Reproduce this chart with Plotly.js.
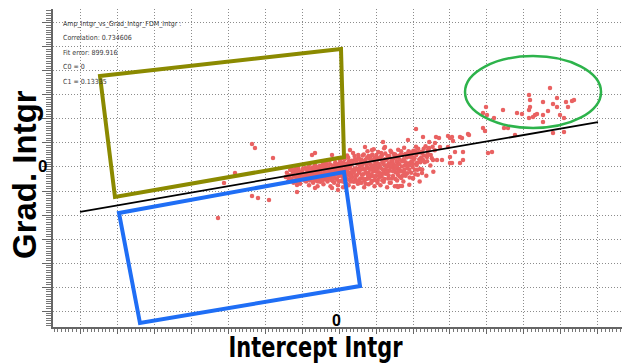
<!DOCTYPE html>
<html>
<head>
<meta charset="utf-8">
<script src="https://cdn.plot.ly/plotly-3.0.1.min.js"></script>
<style>
  html, body { margin: 0; padding: 0; background: #fff; }
  #chart { width: 623px; height: 363px; }
</style>
</head>
<body>
<div id="chart"></div>
<script>
// Intercept / gradient integral samples: [Intercept Intgr, Grad. Intgr]
const intgrSamples = [
  // dense core along the fit
  [-1440,-210],[-1410,-120],[-1380,-300],[-1350,-170],[-1320,-60],[-1290,-240],[-1260,-150],[-1230,-330],
  [-1200,-90],[-1180,-200],[-1150,-270],[-1120,-130],[-1100,-30],[-1070,-220],[-1050,-350],[-1020,-160],
  [-990,-80],[-960,-260],[-940,-190],[-910,-20],
  [-890,-300],[-870,-140],[-850,-50],[-830,-220],[-810,-380],[-800,60],[-780,-170],[-760,-260],[-740,-90],
  [-720,-10],[-700,-330],[-690,-200],[-670,-120],[-650,40],[-630,-280],[-610,-60],[-600,-180],[-580,-400],
  [-560,-240],[-540,-100],[-520,20],[-500,-310],[-490,-150],[-470,-40],[-450,-210],[-430,90],[-420,-360],
  [-400,-130],[-380,-260],[-360,-20],[-350,-180],[-330,60],[-310,-300],[-300,-90],[-280,-220],[-260,130],
  [-250,-150],[-230,-400],[-210,-40],[-200,-270],[-180,-110],[-160,30],[-150,-200],[-130,-330],[-110,-70],
  [-100,100],[-80,-240],[-60,-150],[-40,-20],[-30,-380],[-10,-190],[0,60],
  [20,-110],[40,-290],[60,180],[70,-30],[90,-200],[110,-420],[120,90],[140,-140],[160,-330],[170,20],
  [190,-60],[210,-250],[220,240],[240,-160],[260,-380],[270,120],[290,-20],[310,-300],[320,-110],[340,50],
  [360,-210],[380,290],[390,-420],[410,-80],[430,150],[440,-260],[460,-30],[480,-170],[490,70],[510,-350],
  [530,200],[540,-120],[560,-10],[580,-240],[590,110],
  [610,-330],[630,40],[650,-150],[670,260],[680,-420],[700,-60],[720,150],[740,-250],[750,10],[770,330],
  [790,-120],[800,-360],[820,90],[840,-200],[860,220],[870,-20],[890,-290],[910,140],[930,-90],[940,370],
  [960,-400],[980,60],[1000,-180],[1010,250],[1030,-30],[1050,-270],[1070,180],[1080,-110],[1100,30],
  [1120,-380],[1140,290],[1150,-200],[1170,100],[1190,-50],[1210,-310],[1220,390],[1240,160],[1260,-140],
  [1280,10],[1300,-420],[1310,230],[1330,-240],[1350,80],[1370,-80],[1390,340],[1400,-330],[1420,140],
  [1440,-10],[1460,-190],[1480,270],[1490,40],[1510,-400],[1530,-110],[1550,200],[1570,-280],[1580,90],
  [1600,360],[1620,-40],[1640,-200],
  [1660,250],[1690,-90],[1710,120],[1740,-300],[1760,400],[1780,30],[1800,-180],[1830,200],[1850,-20],
  [1880,330],[1900,-370],[1920,90],[1950,-120],[1970,260],[2000,-240],[2020,150],[2050,-60],[2080,420],
  [2100,40],[2130,-160],[2160,300],[2180,-300],
  [2220,200],[2250,-50],[2290,380],[2320,100],[2360,-180],[2400,270],[2440,520],[2470,30],[2510,180],
  [2550,-100],[2590,350],
  // second pass through the core, close to the fit
  [-1300,-60],[-1270,-280],[-1240,-110],[-1210,-200],[-1170,-40],[-1140,-310],[-1110,-180],[-1080,-90],
  [-1040,-250],[-1010,-120],[-970,-30],[-930,-280],[-900,-150],[-870,-230],[-840,-100],[-820,0],
  [-790,-280],[-770,-60],[-750,-190],[-720,-130],[-690,-20],[-660,-250],[-640,-160],[-620,10],
  [-590,-110],[-570,-300],[-550,-30],[-530,-180],[-510,-80],[-480,-250],[-460,30],[-440,-140],
  [-410,-60],[-390,-200],[-370,80],[-340,-110],[-320,-240],[-290,-10],[-270,-150],[-240,50],
  [-220,-200],[-190,-80],[-170,-290],[-140,10],[-120,-160],[-90,60],[-70,-110],[-50,-260],
  [-20,20],[0,-90],[30,130],[50,-170],[80,30],[100,-300],[130,-60],[150,160],[180,-230],[200,70],
  [230,-100],[250,190],[280,-260],[300,20],[330,-150],[350,130],[370,-60],[400,-310],[420,230],
  [450,-190],[470,100],[500,-40],[520,250],[550,-260],[570,40],[600,150],[620,-160],[640,240],
  [660,-40],[690,-280],[710,90],[730,-120],[760,200],[780,-20],[810,-240],[830,170],[850,50],
  [880,-150],[900,260],[920,-40],[950,130],[970,-270],[990,190],[1020,-100],[1040,80],[1060,310],
  [1090,-210],[1110,170],[1130,-20],[1160,240],[1180,-140],[1200,60],[1230,-250],[1250,280],
  [1270,-50],[1290,150],[1320,30],[1340,-170],[1360,230],[1380,-10],[1410,310],[1430,-240],
  [1450,90],[1470,170],[1500,-60],[1520,260],[1540,-20],[1560,120],[1590,-160],[1610,230],
  [1630,60],[1650,-90],[1680,330],[1700,10],[1720,-180],[1750,160],[1770,-60],[1790,270],
  [1820,80],[1840,-130],[1870,220],[1890,40],[1910,-220],[1940,300],[1960,110],[1990,0],
  [2010,340],[2040,180],[2060,-150],[2090,250],[2110,90],[2140,380],[2170,160],[2190,-40],
  [2230,320],[2260,140],[2300,240],[2340,430],[2380,120],[2420,360],[2480,250],[2530,420],
  // third pass, densest stretch of the core
  [-1350,-250],[-1250,-60],[-1150,-190],[-1060,-130],[-950,-210],[-880,-60],[-810,-170],[-730,-240],
  [-680,-80],[-610,-210],[-540,-140],[-500,-60],[-450,-280],[-400,10],[-350,-90],[-300,-260],
  [-260,-40],[-210,-150],[-160,-230],[-110,-20],[-60,-100],[-10,-290],[40,-40],[90,70],[120,-250],
  [170,-130],[200,-340],[240,-20],[260,60],[300,-190],[340,-290],[360,100],[400,-120],[430,-30],
  [470,-300],[500,160],[530,-90],[560,-330],[590,-60],[620,70],[650,-240],[690,130],[720,-350],
  [740,60],[780,-170],[800,230],[840,-60],[870,-330],[900,30],[940,-200],[970,190],[1000,-20],
  [1040,-330],[1070,60],[1100,-150],[1130,210],[1170,-280],[1200,-80],[1230,130],[1260,30],
  [1300,-110],[1330,200],[1370,-330],[1400,40],[1430,130],[1460,-90],[1500,200],[1530,-250],
  [1560,20],[1600,-100],[1640,150],[1680,-230],[1720,250],[1760,-120],[1800,100],[1850,270],
  [1900,-60],[1950,200],[2000,60],[2060,330],[2120,-60],[2200,100],
  // scattered samples left of and around the core
  [-2352,479],[-2271,396],[-3271,-1062],[-2352,-604],[-2189,-646],[-1892,-687],[-3108,-333],[-2811,-125],
  [-1784,187],[-1135,-375],[-1135,-521],[-730,250],[-649,292],[-649,-437],[-189,-437],[-27,-479],
  [-189,250],[297,354],[703,417],[892,354],
  [1189,521],[1243,417],[1865,562],[1649,-396],[1568,-396],[1595,-417],[1703,-396],[2000,-229],
  // sparse tail to the right
  [2081,792],[2270,625],[2946,646],[3000,604],[3271,625],[3325,604],[3487,687],[2595,500],[2730,417],
  [2406,354],[2541,146],[2784,146],[3000,208],[3271,83],[3000,83],[4027,292],
  [2622,625],[2703,604],[3054,625],[3514,667],[3892,812],[3946,750],[4460,812],[4568,812],[4757,667],
  [2433,396],[2946,417],[3081,542],[3352,312],[3135,312],[2243,292],[2379,208],[2270,146],[2649,146],
  [3054,83],[3352,146],[2243,-125],[4136,312],[5784,708],[6082,729],
  // upper-right group
  [5703,1646],[5136,1500],[5163,1396],[5514,1354],[5892,1437],[6136,1354],[6298,1375],[6352,1396],
  [3973,1250],[4433,1187],[4811,1125],[4946,1104],[5163,1250],[5136,1187],[5298,1083],[5352,1104],
  [5514,1083],[5649,1166],[5784,1312],[5892,1250],[6190,1250],[5973,1083],[6082,1021],[5136,1021],
  [5244,1041],[5514,937],[3892,1125],[4000,1083],[4190,1021]
];

// Linear fit: Grad = C0 + C1 * Intercept
const fitC0 = 0;
const fitC1 = 0.13335;
const fitXs = [-7000, 7000];

const fitInfo = [
  'Amp_Intgr_vs_Grad_Intgr_FDM_Intgr :',
  'Correlation: 0.734606',
  'Fit error: 899.916',
  'C0 = 0',
  'C1 = ' + fitC1
];

// Selection outlines (data coordinates)
const upperBox = [[-6460,1896],[54,2458],[135,208],[-6055,-625]];
const lowerBox = [[-5947,-958],[135,-104],[568,-2479],[-5379,-3250]];
const tailEllipse = {x0: 3406, x1: 7082, y0: 812, y1: 2312};

const xGrid = [-7000,-6000,-5000,-4000,-3000,-2000,-1000,0,1000,2000,3000,4000,5000,6000,7000];
const yGrid = [-3000,-2500,-2000,-1500,-1000,-500,0,500,1000,1500,2000,2500,3000];

function polyPath(pts) {
  return 'M ' + pts.map(p => p[0] + ',' + p[1]).join(' L ') + ' Z';
}

const traces = [
  {
    type: 'scatter', mode: 'markers',
    x: intgrSamples.map(p => p[0]),
    y: intgrSamples.map(p => p[1]),
    marker: {color: '#e96262', size: 4.5, line: {width: 0}},
    hoverinfo: 'skip'
  },
  {
    type: 'scatter', mode: 'lines',
    x: fitXs,
    y: fitXs.map(v => fitC0 + fitC1 * v),
    line: {color: '#000', width: 1.8},
    hoverinfo: 'skip'
  }
];

const axisCommon = {
  showgrid: true, gridcolor: '#8c8c8c', griddash: '1px,2px', gridwidth: 1,
  zeroline: false, showline: true, linecolor: '#666', linewidth: 2,
  ticks: 'outside', tickcolor: '#666', tickwidth: 1,
  tickmode: 'array', showticklabels: false,
  minor: {ticks: 'outside', ticklen: 3, tickcolor: '#777', tickwidth: 1, showgrid: false}
};

const infoAnnotations = fitInfo.map((t, i) => ({
  text: t, xref: 'paper', yref: 'paper',
  x: 0.014, y: [0.953, 0.909, 0.862, 0.818, 0.772][i],
  xanchor: 'left', yanchor: 'middle', showarrow: false,
  font: {family: 'Liberation Sans Narrow, DejaVu Sans Condensed, Liberation Sans, sans-serif', size: 7, color: '#3a3a3a'}
}));

const layout = {
  width: 623, height: 363,
  margin: {l: 53, r: 1, t: 9, b: 36},
  paper_bgcolor: '#fff', plot_bgcolor: '#fff',
  showlegend: false,
  xaxis: Object.assign({}, axisCommon, {
    range: [-7730, 7649], tickvals: xGrid, ticklen: 5,
    minor: Object.assign({}, axisCommon.minor, {dtick: 100, tick0: 0})
  }),
  yaxis: Object.assign({}, axisCommon, {
    range: [-3333, 3291], tickvals: yGrid, ticklen: 9,
    minor: Object.assign({}, axisCommon.minor, {dtick: 50, tick0: 0, ticklen: 5})
  }),
  shapes: [
    {type: 'path', xref: 'x', yref: 'y', path: polyPath(upperBox),
     line: {color: '#8b8a00', width: 4}, layer: 'above'},
    {type: 'path', xref: 'x', yref: 'y', path: polyPath(lowerBox),
     line: {color: '#1f6ef5', width: 4}, layer: 'above'},
    {type: 'circle', xref: 'x', yref: 'y',
     x0: tailEllipse.x0, x1: tailEllipse.x1, y0: tailEllipse.y0, y1: tailEllipse.y1,
     line: {color: '#2db34b', width: 2.5}, layer: 'above'}
  ],
  annotations: infoAnnotations.concat([
    {text: '0', xref: 'paper', yref: 'y', x: -0.019, y: 0, xanchor: 'center', yanchor: 'middle',
     showarrow: false, font: {family: 'Liberation Sans, Arial, sans-serif', size: 17, color: '#000', weight: 'bold'}},
    {text: '0', xref: 'x', yref: 'paper', x: 0, xshift: -3, y: 0.019, xanchor: 'center', yanchor: 'middle',
     showarrow: false, font: {family: 'Liberation Sans, Arial, sans-serif', size: 16, color: '#000', weight: 'bold'}},
    {text: 'Intercept Intgr', xref: 'paper', yref: 'paper', x: 0.4605, y: -0.062,
     xanchor: 'center', yanchor: 'middle', showarrow: false,
     font: {family: 'Liberation Sans Narrow, DejaVu Sans Condensed, Liberation Sans, sans-serif', size: 29, color: '#000', weight: 'bold'}},
    {text: 'Grad. Intgr', xref: 'paper', yref: 'paper', x: -0.051, y: 0.481, textangle: -90,
     xanchor: 'center', yanchor: 'middle', showarrow: false,
     font: {family: 'Liberation Sans, Arial, sans-serif', size: 33, color: '#000', weight: 'bold'}}
  ])
};

Plotly.newPlot('chart', traces, layout, {staticPlot: true, displayModeBar: false}).then(gd => {
  // condense the horizontal axis title to a narrow width
  gd.querySelectorAll('text.annotation-text').forEach(el => {
    if (el.textContent === 'Intercept Intgr') {
      el.setAttribute('textLength', '174');
      el.setAttribute('lengthAdjust', 'spacingAndGlyphs');
    }
  });
});
</script>
</body>
</html>
